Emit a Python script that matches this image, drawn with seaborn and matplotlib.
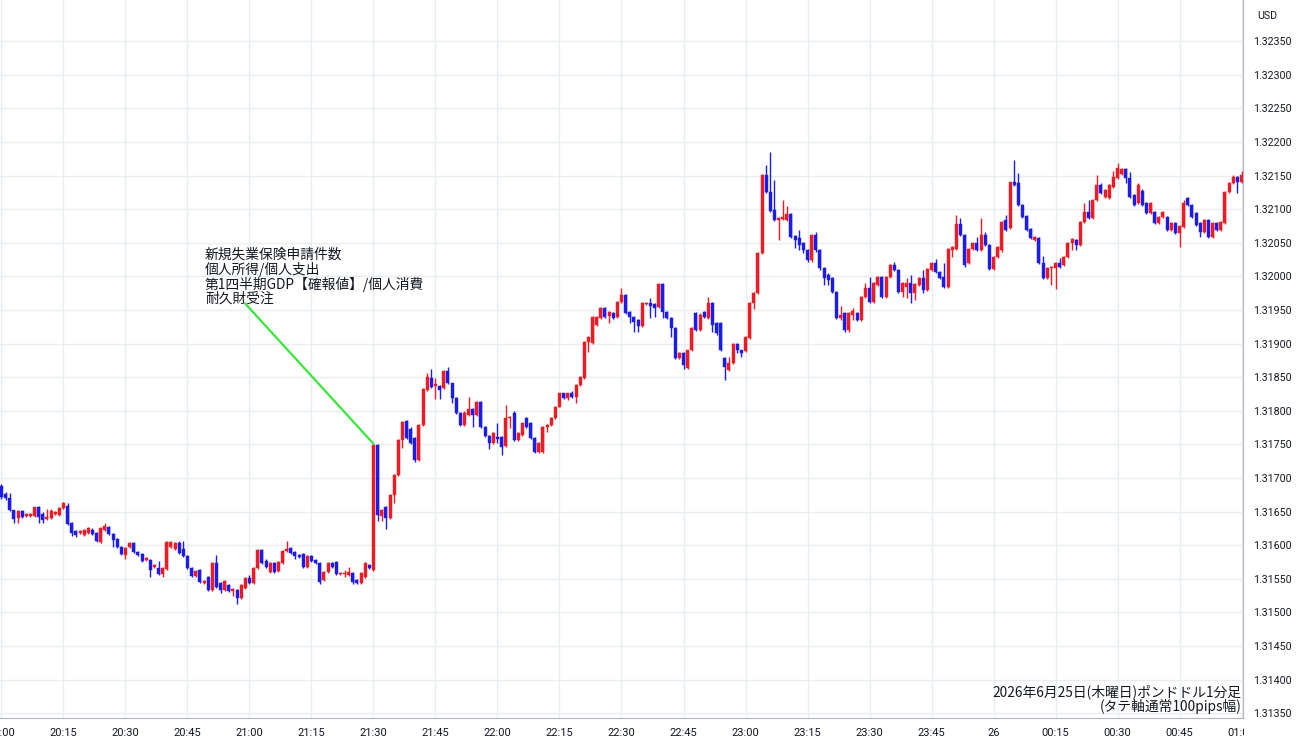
import matplotlib
matplotlib.use("Agg")
import matplotlib.pyplot as plt
from matplotlib.patches import Rectangle
import numpy as np
import pandas as pd
import seaborn as sns

# --- data: 1-minute GBP/USD candles, 20:00 -> 01:00 ---
opens = [
    1.31688, 1.31676, 1.31670, 1.31652, 1.31640, 1.31651, 1.31643, 1.31643, 1.31643, 1.31657,
    1.31646, 1.31639, 1.31640, 1.31646, 1.31645, 1.31655, 1.31658, 1.31633, 1.31621, 1.31618,
    1.31615, 1.31618, 1.31623, 1.31618, 1.31605, 1.31623, 1.31627, 1.31617, 1.31609, 1.31597,
    1.31585, 1.31597, 1.31603, 1.31590, 1.31587, 1.31578, 1.31578, 1.31568, 1.31566, 1.31557,
    1.31565, 1.31597, 1.31594, 1.31603, 1.31594, 1.31584, 1.31566, 1.31554, 1.31563, 1.31544,
    1.31553, 1.31533, 1.31574, 1.31544, 1.31533, 1.31541, 1.31532, 1.31533, 1.31521, 1.31536,
    1.31551, 1.31544, 1.31566, 1.31593, 1.31576, 1.31560, 1.31574, 1.31562, 1.31574, 1.31591,
    1.31596, 1.31590, 1.31585, 1.31587, 1.31568, 1.31584, 1.31578, 1.31574, 1.31548, 1.31560,
    1.31574, 1.31575, 1.31557, 1.31557, 1.31556, 1.31559, 1.31548, 1.31544, 1.31553, 1.31571,
    1.31563, 1.31749, 1.31643, 1.31657, 1.31640, 1.31675, 1.31704, 1.31757, 1.31785, 1.31773,
    1.31760, 1.31727, 1.31779, 1.31831, 1.31849, 1.31837, 1.31837, 1.31834, 1.31859, 1.31841,
    1.31819, 1.31797, 1.31779, 1.31794, 1.31803, 1.31794, 1.31813, 1.31776, 1.31762, 1.31752,
    1.31761, 1.31761, 1.31748, 1.31789, 1.31797, 1.31757, 1.31764, 1.31789, 1.31782, 1.31760,
    1.31739, 1.31739, 1.31776, 1.31779, 1.31789, 1.31806, 1.31826, 1.31819, 1.31827, 1.31821,
    1.31838, 1.31849, 1.31902, 1.31901, 1.31928, 1.31938, 1.31953, 1.31941, 1.31946, 1.31940,
    1.31962, 1.31972, 1.31947, 1.31940, 1.31935, 1.31926, 1.31959, 1.31960, 1.31959, 1.31954,
    1.31989, 1.31947, 1.31938, 1.31923, 1.31879, 1.31886, 1.31864, 1.31890, 1.31945, 1.31920,
    1.31947, 1.31938, 1.31960, 1.31931, 1.31931, 1.31879, 1.31861, 1.31871, 1.31899, 1.31890,
    1.31889, 1.31908, 1.31960, 1.31975, 1.32035, 1.32151, 1.32126, 1.32099, 1.32084, 1.32086,
    1.32084, 1.32093, 1.32060, 1.32057, 1.32050, 1.32039, 1.32024, 1.32062, 1.32039, 1.32012,
    1.32002, 1.31998, 1.31977, 1.31938, 1.31946, 1.31920, 1.31943, 1.31946, 1.31935, 1.31969,
    1.31983, 1.31962, 1.31987, 1.31999, 1.31969, 1.31999, 1.32017, 1.32010, 1.31977, 1.31984,
    1.31990, 1.31975, 1.31987, 1.31998, 1.31980, 1.32010, 1.32020, 1.32007, 1.31999, 1.31984,
    1.32039, 1.32041, 1.32078, 1.32062, 1.32020, 1.32041, 1.32050, 1.32039, 1.32062, 1.32047,
    1.32011, 1.32029, 1.32039, 1.32084, 1.32072, 1.32140, 1.32139, 1.32106, 1.32090, 1.32071,
    1.32054, 1.32057, 1.32020, 1.31998, 1.32012, 1.32012, 1.32020, 1.32017, 1.32029, 1.32050,
    1.32054, 1.32047, 1.32081, 1.32096, 1.32087, 1.32114, 1.32136, 1.32118, 1.32117, 1.32133,
    1.32146, 1.32153, 1.32160, 1.32146, 1.32121, 1.32109, 1.32127, 1.32109, 1.32094, 1.32096,
    1.32079, 1.32088, 1.32088, 1.32069, 1.32079, 1.32065, 1.32073, 1.32117, 1.32106, 1.32094,
    1.32079, 1.32066, 1.32084, 1.32059, 1.32079, 1.32069, 1.32079, 1.32126, 1.32139, 1.32148,
    1.32140,
]
highs = [
    1.31691, 1.31679, 1.31678, 1.31652, 1.31652, 1.31652, 1.31648, 1.31648, 1.31657, 1.31658,
    1.31649, 1.31654, 1.31654, 1.31651, 1.31657, 1.31664, 1.31663, 1.31635, 1.31623, 1.31623,
    1.31624, 1.31627, 1.31626, 1.31620, 1.31627, 1.31633, 1.31629, 1.31618, 1.31611, 1.31599,
    1.31597, 1.31605, 1.31605, 1.31591, 1.31588, 1.31582, 1.31579, 1.31572, 1.31576, 1.31568,
    1.31606, 1.31606, 1.31605, 1.31606, 1.31606, 1.31585, 1.31568, 1.31563, 1.31565, 1.31548,
    1.31554, 1.31575, 1.31585, 1.31545, 1.31548, 1.31542, 1.31536, 1.31535, 1.31542, 1.31553,
    1.31556, 1.31568, 1.31594, 1.31594, 1.31579, 1.31575, 1.31575, 1.31576, 1.31593, 1.31606,
    1.31597, 1.31591, 1.31587, 1.31588, 1.31585, 1.31585, 1.31579, 1.31575, 1.31562, 1.31575,
    1.31575, 1.31576, 1.31560, 1.31563, 1.31568, 1.31560, 1.31550, 1.31560, 1.31575, 1.31572,
    1.31751, 1.31751, 1.31654, 1.31658, 1.31676, 1.31706, 1.31758, 1.31785, 1.31786, 1.31776,
    1.31761, 1.31780, 1.31834, 1.31856, 1.31862, 1.31849, 1.31838, 1.31861, 1.31865, 1.31842,
    1.31820, 1.31798, 1.31799, 1.31821, 1.31804, 1.31815, 1.31815, 1.31777, 1.31764, 1.31768,
    1.31782, 1.31762, 1.31809, 1.31792, 1.31800, 1.31768, 1.31783, 1.31791, 1.31783, 1.31761,
    1.31754, 1.31777, 1.31780, 1.31791, 1.31807, 1.31827, 1.31827, 1.31827, 1.31829, 1.31840,
    1.31852, 1.31904, 1.31911, 1.31941, 1.31941, 1.31954, 1.31954, 1.31948, 1.31947, 1.31963,
    1.31983, 1.31974, 1.31948, 1.31941, 1.31937, 1.31962, 1.31962, 1.31968, 1.31960, 1.31990,
    1.31990, 1.31948, 1.31940, 1.31925, 1.31887, 1.31887, 1.31891, 1.31925, 1.31947, 1.31946,
    1.31948, 1.31969, 1.31962, 1.31932, 1.31932, 1.31880, 1.31880, 1.31901, 1.31901, 1.31891,
    1.31911, 1.31962, 1.31977, 1.32036, 1.32152, 1.32166, 1.32185, 1.32143, 1.32088, 1.32114,
    1.32105, 1.32094, 1.32062, 1.32069, 1.32051, 1.32041, 1.32063, 1.32066, 1.32041, 1.32014,
    1.32005, 1.31999, 1.31978, 1.31956, 1.31947, 1.31947, 1.31953, 1.31947, 1.31971, 1.31990,
    1.31999, 1.31992, 1.32000, 1.32000, 1.32000, 1.32018, 1.32021, 1.32011, 1.31992, 1.31998,
    1.32002, 1.31990, 1.31999, 1.32010, 1.32012, 1.32021, 1.32026, 1.32008, 1.32020, 1.32042,
    1.32045, 1.32091, 1.32087, 1.32063, 1.32042, 1.32051, 1.32059, 1.32087, 1.32066, 1.32048,
    1.32030, 1.32045, 1.32082, 1.32091, 1.32141, 1.32173, 1.32154, 1.32108, 1.32091, 1.32072,
    1.32060, 1.32059, 1.32030, 1.32014, 1.32015, 1.32021, 1.32027, 1.32030, 1.32051, 1.32057,
    1.32056, 1.32082, 1.32109, 1.32114, 1.32115, 1.32151, 1.32139, 1.32130, 1.32137, 1.32157,
    1.32169, 1.32161, 1.32161, 1.32155, 1.32123, 1.32139, 1.32130, 1.32111, 1.32111, 1.32097,
    1.32090, 1.32097, 1.32090, 1.32081, 1.32081, 1.32076, 1.32114, 1.32118, 1.32108, 1.32096,
    1.32081, 1.32085, 1.32085, 1.32081, 1.32081, 1.32082, 1.32127, 1.32140, 1.32151, 1.32150,
    1.32157,
]
lows = [
    1.31669, 1.31667, 1.31651, 1.31633, 1.31633, 1.31640, 1.31642, 1.31642, 1.31642, 1.31633,
    1.31633, 1.31637, 1.31639, 1.31645, 1.31643, 1.31654, 1.31630, 1.31614, 1.31612, 1.31617,
    1.31614, 1.31617, 1.31615, 1.31605, 1.31603, 1.31621, 1.31615, 1.31597, 1.31596, 1.31585,
    1.31579, 1.31596, 1.31588, 1.31584, 1.31575, 1.31576, 1.31553, 1.31566, 1.31556, 1.31553,
    1.31563, 1.31596, 1.31593, 1.31587, 1.31582, 1.31565, 1.31553, 1.31553, 1.31544, 1.31542,
    1.31532, 1.31532, 1.31536, 1.31529, 1.31532, 1.31530, 1.31524, 1.31512, 1.31520, 1.31535,
    1.31542, 1.31542, 1.31565, 1.31572, 1.31566, 1.31559, 1.31559, 1.31560, 1.31572, 1.31590,
    1.31587, 1.31579, 1.31581, 1.31566, 1.31566, 1.31575, 1.31572, 1.31542, 1.31547, 1.31559,
    1.31566, 1.31556, 1.31556, 1.31553, 1.31554, 1.31542, 1.31542, 1.31542, 1.31551, 1.31565,
    1.31562, 1.31636, 1.31636, 1.31624, 1.31639, 1.31663, 1.31703, 1.31745, 1.31758, 1.31751,
    1.31724, 1.31726, 1.31778, 1.31830, 1.31834, 1.31818, 1.31818, 1.31833, 1.31840, 1.31812,
    1.31795, 1.31778, 1.31778, 1.31793, 1.31776, 1.31793, 1.31775, 1.31761, 1.31743, 1.31751,
    1.31752, 1.31734, 1.31746, 1.31775, 1.31755, 1.31755, 1.31763, 1.31775, 1.31758, 1.31737,
    1.31737, 1.31737, 1.31768, 1.31778, 1.31788, 1.31805, 1.31818, 1.31816, 1.31819, 1.31812,
    1.31837, 1.31848, 1.31887, 1.31899, 1.31926, 1.31937, 1.31938, 1.31931, 1.31937, 1.31938,
    1.31960, 1.31944, 1.31931, 1.31917, 1.31917, 1.31925, 1.31957, 1.31938, 1.31940, 1.31953,
    1.31938, 1.31937, 1.31910, 1.31877, 1.31877, 1.31862, 1.31862, 1.31889, 1.31919, 1.31919,
    1.31938, 1.31937, 1.31917, 1.31913, 1.31889, 1.31846, 1.31859, 1.31869, 1.31886, 1.31880,
    1.31887, 1.31907, 1.31951, 1.31974, 1.32034, 1.32124, 1.32096, 1.32082, 1.32054, 1.32084,
    1.32082, 1.32057, 1.32042, 1.32039, 1.32035, 1.32022, 1.32022, 1.32036, 1.32010, 1.31987,
    1.31987, 1.31975, 1.31937, 1.31935, 1.31917, 1.31917, 1.31935, 1.31934, 1.31934, 1.31968,
    1.31960, 1.31960, 1.31986, 1.31968, 1.31968, 1.31998, 1.32008, 1.31975, 1.31969, 1.31968,
    1.31960, 1.31965, 1.31986, 1.31975, 1.31978, 1.32008, 1.32005, 1.31996, 1.31983, 1.31983,
    1.32029, 1.32039, 1.32060, 1.32014, 1.32018, 1.32039, 1.32038, 1.32038, 1.32045, 1.32010,
    1.32010, 1.32027, 1.32036, 1.32068, 1.32070, 1.32134, 1.32105, 1.32087, 1.32068, 1.32056,
    1.32053, 1.32018, 1.31996, 1.31996, 1.31987, 1.31981, 1.32012, 1.32015, 1.32027, 1.32039,
    1.32039, 1.32045, 1.32079, 1.32085, 1.32085, 1.32112, 1.32123, 1.32117, 1.32115, 1.32131,
    1.32145, 1.32151, 1.32139, 1.32117, 1.32105, 1.32108, 1.32105, 1.32093, 1.32093, 1.32078,
    1.32078, 1.32087, 1.32068, 1.32068, 1.32063, 1.32044, 1.32072, 1.32105, 1.32087, 1.32075,
    1.32059, 1.32065, 1.32057, 1.32057, 1.32068, 1.32068, 1.32078, 1.32124, 1.32138, 1.32124,
    1.32139,
]
closes = [
    1.31672, 1.31670, 1.31652, 1.31639, 1.31651, 1.31642, 1.31646, 1.31646, 1.31657, 1.31642,
    1.31637, 1.31642, 1.31651, 1.31649, 1.31655, 1.31663, 1.31632, 1.31618, 1.31615, 1.31621,
    1.31623, 1.31626, 1.31617, 1.31606, 1.31626, 1.31629, 1.31617, 1.31608, 1.31597, 1.31587,
    1.31596, 1.31603, 1.31590, 1.31585, 1.31576, 1.31581, 1.31563, 1.31571, 1.31557, 1.31566,
    1.31605, 1.31605, 1.31603, 1.31588, 1.31584, 1.31566, 1.31554, 1.31562, 1.31545, 1.31547,
    1.31533, 1.31574, 1.31538, 1.31533, 1.31547, 1.31532, 1.31535, 1.31521, 1.31541, 1.31551,
    1.31544, 1.31566, 1.31593, 1.31574, 1.31568, 1.31574, 1.31560, 1.31575, 1.31591, 1.31594,
    1.31588, 1.31584, 1.31582, 1.31568, 1.31584, 1.31576, 1.31574, 1.31545, 1.31560, 1.31574,
    1.31568, 1.31557, 1.31559, 1.31559, 1.31560, 1.31545, 1.31544, 1.31559, 1.31574, 1.31566,
    1.31749, 1.31645, 1.31652, 1.31640, 1.31675, 1.31704, 1.31757, 1.31783, 1.31760, 1.31752,
    1.31727, 1.31779, 1.31832, 1.31850, 1.31835, 1.31840, 1.31831, 1.31859, 1.31841, 1.31819,
    1.31797, 1.31779, 1.31797, 1.31803, 1.31794, 1.31813, 1.31776, 1.31762, 1.31752, 1.31767,
    1.31758, 1.31746, 1.31789, 1.31791, 1.31757, 1.31767, 1.31782, 1.31776, 1.31760, 1.31739,
    1.31752, 1.31776, 1.31779, 1.31789, 1.31806, 1.31826, 1.31819, 1.31826, 1.31821, 1.31838,
    1.31850, 1.31902, 1.31910, 1.31940, 1.31940, 1.31953, 1.31940, 1.31947, 1.31938, 1.31962,
    1.31972, 1.31946, 1.31940, 1.31932, 1.31926, 1.31960, 1.31960, 1.31956, 1.31953, 1.31989,
    1.31947, 1.31938, 1.31923, 1.31879, 1.31886, 1.31868, 1.31890, 1.31923, 1.31920, 1.31943,
    1.31940, 1.31960, 1.31928, 1.31916, 1.31890, 1.31865, 1.31871, 1.31899, 1.31890, 1.31886,
    1.31910, 1.31960, 1.31975, 1.32035, 1.32151, 1.32126, 1.32097, 1.32084, 1.32087, 1.32087,
    1.32093, 1.32059, 1.32054, 1.32047, 1.32039, 1.32024, 1.32062, 1.32039, 1.32012, 1.31998,
    1.31995, 1.31977, 1.31938, 1.31943, 1.31920, 1.31946, 1.31948, 1.31935, 1.31969, 1.31983,
    1.31962, 1.31990, 1.31999, 1.31969, 1.31999, 1.32017, 1.32010, 1.31977, 1.31990, 1.31990,
    1.31975, 1.31989, 1.31998, 1.31980, 1.32011, 1.32020, 1.32007, 1.31998, 1.31984, 1.32041,
    1.32044, 1.32078, 1.32062, 1.32017, 1.32041, 1.32050, 1.32039, 1.32062, 1.32047, 1.32011,
    1.32029, 1.32044, 1.32081, 1.32069, 1.32140, 1.32136, 1.32106, 1.32088, 1.32069, 1.32057,
    1.32059, 1.32020, 1.31998, 1.32012, 1.32014, 1.32020, 1.32014, 1.32029, 1.32050, 1.32056,
    1.32047, 1.32081, 1.32096, 1.32087, 1.32114, 1.32136, 1.32124, 1.32128, 1.32136, 1.32148,
    1.32161, 1.32160, 1.32146, 1.32118, 1.32106, 1.32136, 1.32106, 1.32094, 1.32109, 1.32079,
    1.32088, 1.32096, 1.32069, 1.32079, 1.32065, 1.32075, 1.32109, 1.32106, 1.32088, 1.32076,
    1.32066, 1.32084, 1.32059, 1.32079, 1.32069, 1.32081, 1.32126, 1.32139, 1.32148, 1.32140,
    1.32151,
]

time_labels = ["20:00", "20:15", "20:30", "20:45", "21:00", "21:15", "21:30", "21:45",
               "22:00", "22:15", "22:30", "22:45", "23:00", "23:15", "23:30", "23:45",
               "26", "00:15", "00:30", "00:45", "01:00"]
price_ticks = [1.31350, 1.31400, 1.31450, 1.31500, 1.31550, 1.31600, 1.31650, 1.31700,
               1.31750, 1.31800, 1.31850, 1.31900, 1.31950, 1.32000, 1.32050, 1.32100,
               1.32150, 1.32200, 1.32250, 1.32300, 1.32350]

event_text = "新規失業保険申請件数\n個人所得/個人支出\n第1四半期GDP【確報値】/個人消費\n耐久財受注"
caption = "2026年6月25日(木曜日)ポンドドル1分足\n(タテ軸通常100pips幅)"

df = pd.DataFrame({"open": opens, "high": highs, "low": lows, "close": closes})
df["minute"] = np.arange(len(df))
df["up"] = df["close"] >= df["open"]

# --- style ---
sns.set_theme(style="white")
plt.rcParams["font.family"] = ["Roboto", "DejaVu Sans"]
JP = ["Noto Sans CJK JP", "DejaVu Sans"]

RED = "#ec1c24"
BLUE = "#1c1ce8"
GRID = "#e8edf1"
TXT = "#131722"

W, H = 1300, 745
fig = plt.figure(figsize=(W / 100, H / 100), dpi=100)
fig.patch.set_facecolor("white")
ax = fig.add_axes([0, 27 / H, 1243 / W, 718 / H])
ax.set_facecolor("white")

colors = np.where(df["up"], RED, BLUE)

# wicks
ax.vlines(df["minute"], df["low"], df["high"], colors=colors, lw=1.0, zorder=3)
# bodies
body_lo = np.minimum(df["open"], df["close"])
body_h = np.maximum((df["close"] - df["open"]).abs(), 0.000018)
ax.bar(df["minute"], body_h, bottom=body_lo, width=0.72, color=colors,
       edgecolor=colors, linewidth=0.3, zorder=4)

# event marker line
sns.lineplot(x=[58.9, 90.0], y=[1.31960, 1.31751], ax=ax, color="#39e639",
             lw=1.6, zorder=5)
fig.text(205 / W, 1 - 248 / H, event_text, family=JP, fontsize=9.9, color=TXT,
         va="top", ha="left", linespacing=0.98)

# axes / grid
ax.set_xlim(-0.36, 300.36)
ax.set_ylim(1.313429, 1.324113)
ax.set_xticks(np.arange(0, 301, 15))
ax.set_xticklabels(time_labels)
ax.set_yticks(price_ticks)
ax.set_yticklabels([f"{p:.5f}" for p in price_ticks])
ax.yaxis.tick_right()
ax.grid(True, color=GRID, lw=1.0, zorder=0)
ax.tick_params(axis="x", length=0, pad=7, labelsize=8, labelcolor=TXT)
ax.tick_params(axis="y", length=0, pad=7, labelsize=7.7, labelcolor=TXT)
for s in ["top", "left"]:
    ax.spines[s].set_visible(False)
ax.spines["right"].set_color("#b2b5be")
ax.spines["bottom"].set_color("#b2b5be")
ax.spines["right"].set_linewidth(0.8)
ax.spines["bottom"].set_linewidth(0.8)
ax.set_xlabel("")
ax.set_ylabel("")

ax.text(0.9985, 0.006, caption, transform=ax.transAxes, family=JP, fontsize=9.9,
        color=TXT, ha="right", va="bottom", linespacing=0.98, zorder=6)

fig.text(1257 / W, 1 - 16 / H, "USD", fontsize=7.7, color=TXT, va="center", ha="left")

# hide label overflow into the price-scale corner
fig.add_artist(Rectangle((1244 / W, 0), 56 / W, 26 / H, transform=fig.transFigure,
                         facecolor="white", edgecolor="none", zorder=10))

fig.savefig("out.png", dpi=100, facecolor="white")
